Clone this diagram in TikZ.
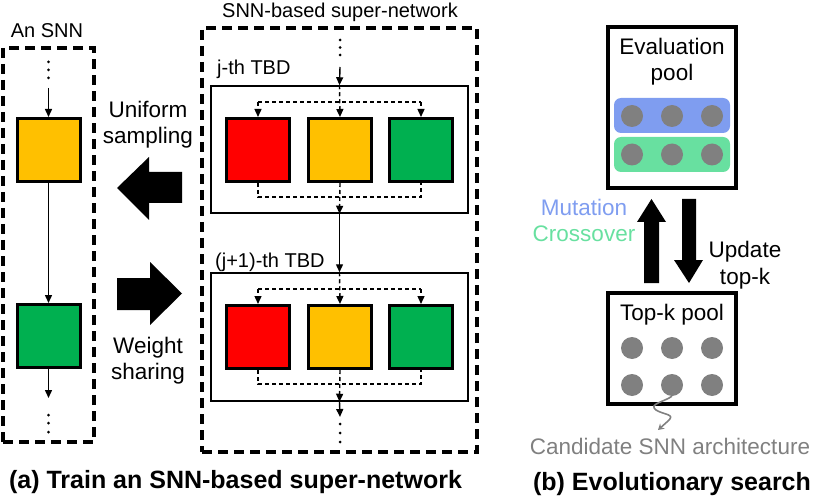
\documentclass[tikz,border=0pt]{standalone}
\usepackage{fontspec}
\setmainfont{Liberation Sans}
\usetikzlibrary{arrows.meta}
\definecolor{cred}{RGB}{255,0,0}
\definecolor{corange}{RGB}{255,192,0}
\definecolor{cgreen}{RGB}{0,176,80}
\definecolor{cblue}{RGB}{127,157,240}
\definecolor{cmint}{RGB}{104,224,160}
\definecolor{cgray}{RGB}{128,128,128}
\begin{document}
\begin{tikzpicture}[x=1pt,y=-1pt,
  blk/.style={draw=black, line width=3pt, minimum width=63pt, minimum height=63pt, inner sep=0pt},
  outerdash/.style={draw, line width=3.2pt, dash pattern=on 10pt off 6pt, inner sep=0pt},
  tbdbox/.style={draw, line width=1.5pt, inner sep=0pt},
  poolbox/.style={draw, line width=3.2pt, inner sep=0pt},
  idash/.style={line width=1.4pt, dash pattern=on 4pt off 3pt},
  arr/.style={-{Triangle[width=7pt,length=8pt]}, line width=1.4pt},
  dot/.style={circle, fill=cgray, minimum size=22pt, inner sep=0pt},
  txt/.style={font=\fontsize{22.5}{26.5}\selectfont, inner sep=0pt, align=center},
  stxt/.style={font=\fontsize{20}{24}\selectfont, inner sep=0pt},
  ttl/.style={font=\fontsize{25}{30}\selectfont\bfseries, inner sep=0pt},
  bigarr/.style={fill=black}
]
\useasboundingbox (0,0) rectangle (830,497);

% ---------------- An SNN ----------------
\node[outerdash, minimum width=91pt, minimum height=394pt] (snn) at (48.5,245) {};
\node[stxt, anchor=base] (snnlbl) at (47,38) {An SNN};
\foreach \yy in {62,70,78} \fill (48.5,\yy) circle (1.5pt);
\coordinate (snnin) at (48.5,88);
\node[blk, fill=corange] (o1) at (48.5,150) {};
\node[blk, fill=cgreen] (g1) at (48.5,336) {};
\coordinate (snnout) at (48.5,398);
\draw[arr] (snnin) -- (o1.north);
\draw[arr] (o1.south) -- (g1.north);
\draw[arr] (g1.south) -- (snnout);
\foreach \yy in {415,423,432} \fill (48.5,\yy) circle (1.5pt);

% ---------------- big arrows ----------------
\fill[bigarr] (117,188) -- (149,157) -- (149,172) -- (182,172) -- (182,203) -- (149,203) -- (149,220) -- cycle;
\fill[bigarr] (117,278) -- (150,278) -- (150,262) -- (182,293.5) -- (150,325) -- (150,310) -- (117,310) -- cycle;
\node[txt] (uni) at (148,124.5) {Uniform\\sampling};
\node[txt] (ws) at (148,360.5) {Weight\\sharing};

% ---------------- super-network ----------------
\node[outerdash, minimum width=275pt, minimum height=424pt] (sup) at (339.5,240) {};
\node[stxt, anchor=base] (suplbl) at (340,17.5) {SNN-based super-network};
\foreach \yy in {40,47.5,55} \fill (340,\yy) circle (1.5pt);
\coordinate (supin) at (340,67);

\node[tbdbox, minimum width=257pt, minimum height=127pt] (t1) at (339.5,149.5) {};
\node[stxt, anchor=base west] (t1lbl) at (217,75) {j-th TBD};
\node[blk, fill=cred] (r1) at (258,150) {};
\node[blk, fill=corange] (o2) at (340,150) {};
\node[blk, fill=cgreen] (g2) at (421,150) {};
\draw[arr] (supin) -- (t1.north);
\draw[idash, arr] (t1.north) -- (o2.north);
\draw[idash] (r1.north |- 0,102) -- (g2.north |- 0,102);
\draw[idash, arr] (r1.north |- 0,102) -- (r1.north);
\draw[idash, arr] (g2.north |- 0,102) -- (g2.north);
\draw[idash] (r1.south) -- (r1.south |- 0,197) -- (g2.south |- 0,197) -- (g2.south);
\draw[idash, arr] (o2.south) -- (t1.south);

\node[tbdbox, minimum width=257pt, minimum height=128pt] (t2) at (339.5,337) {};
\node[stxt, anchor=base west] (t2lbl) at (215,267) {(j+1)-th TBD};
\node[blk, fill=cred] (r2) at (258,337) {};
\node[blk, fill=corange] (o3) at (340,337) {};
\node[blk, fill=cgreen] (g3) at (421,337) {};
\draw[arr] (t1.south) -- (t2.north);
\draw[idash, arr] (t2.north) -- (o3.north);
\draw[idash] (r2.north |- 0,289) -- (g3.north |- 0,289);
\draw[idash, arr] (r2.north |- 0,289) -- (r2.north);
\draw[idash, arr] (g3.north |- 0,289) -- (g3.north);
\draw[idash] (r2.south) -- (r2.south |- 0,384) -- (g3.south |- 0,384) -- (g3.south);
\draw[idash, arr] (o3.south) -- (t2.south);
\coordinate (supout) at (340,417);
\draw[arr] (t2.south) -- (supout);
\foreach \yy in {424,433,442} \fill (340,\yy) circle (1.5pt);

\node[ttl, anchor=base] (ta) at (235.5,488) {(a) Train an SNN-based super-network};

% ---------------- evolutionary search ----------------
\node[poolbox, minimum width=128pt, minimum height=161pt] (ev) at (672,107.5) {};
\node[txt] (evlbl) at (672,61.5) {Evaluation\\pool};
\fill[cblue, rounded corners=7pt] (614,98) rectangle (730,133);
\fill[cmint, rounded corners=7pt] (614,137) rectangle (730,172);
\node[dot] (e1) at (632,116) {};
\node[dot] (e2) at (672,116) {};
\node[dot] (e3) at (712,116) {};
\node[dot] (e4) at (632,154.5) {};
\node[dot] (e5) at (672,154.5) {};
\node[dot] (e6) at (712,154.5) {};

\fill[bigarr] (651.5,199) -- (666,222) -- (659,222) -- (659,283) -- (644,283) -- (644,222) -- (637,222) -- cycle;
\fill[bigarr] (689,283) -- (703,260) -- (696,260) -- (696,199) -- (682,199) -- (682,260) -- (674,260) -- cycle;
\node[txt] (mc) at (584,220.5) {{\color{cblue}Mutation}\\{\color{cmint}Crossover}};
\node[txt] (up) at (745,265) {Update\\top-k};

\node[poolbox, minimum width=128pt, minimum height=111pt] (tk) at (672,348.5) {};
\node[txt, anchor=base] (tklbl) at (672,320) {Top-k pool};
\node[dot] (k1) at (632,348) {};
\node[dot] (k2) at (672,348) {};
\node[dot] (k3) at (712,348) {};
\node[dot] (k4) at (632,385) {};
\node[dot] (k5) at (672,385) {};
\node[dot] (k6) at (712,385) {};
\node[txt, anchor=base, text=cgray] (cand) at (670,454) {Candidate SNN architecture};
\draw[cgray, line width=1.6pt, -{Stealth[width=7pt,length=6pt]}] (k5.south) .. controls (664,402) and (648,404) .. (656,410) .. controls (664,415) and (676,414) .. (668,421) -- (658,430);

\node[ttl, anchor=base] (tb) at (672,490) {(b) Evolutionary search};
\end{tikzpicture}
\end{document}
